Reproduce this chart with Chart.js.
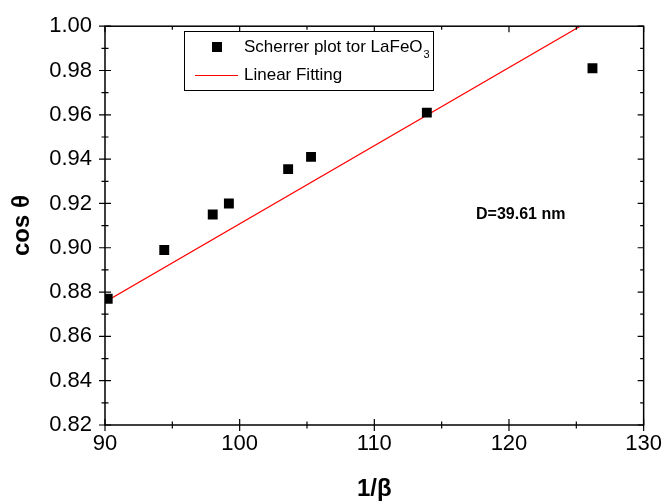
<!DOCTYPE html>
<html>
<head>
<meta charset="utf-8">
<script src="https://cdn.jsdelivr.net/npm/chart.js@4"></script>
<style>
html,body{margin:0;padding:0;background:#fff;}
#wrap{width:668px;height:504px;}
</style>
</head>
<body>
<div id="wrap"><canvas id="c" width="668" height="504"></canvas></div>
<script>
// Data
const invBeta = [90.2, 94.4, 98.0, 99.2, 103.6, 105.3, 113.9, 126.2];
const cosTheta = [0.877, 0.899, 0.915, 0.920, 0.9355, 0.941, 0.961, 0.981];
const fitX = [90, 130];
const fitY = [0.8755, 1.0166];
const xTicks = [90, 100, 110, 120, 130];
const xMinor = [95, 105, 115, 125];
const yTicks = [0.82, 0.84, 0.86, 0.88, 0.90, 0.92, 0.94, 0.96, 0.98, 1.00];
const yMinor = [0.83, 0.85, 0.87, 0.89, 0.91, 0.93, 0.95, 0.97, 0.99];
const seriesLabels = ['Scherrer plot tor LaFeO', 'Linear Fitting'];
const annotationText = 'D=39.61 nm';

const FONT = '"Liberation Sans", Arial, sans-serif';

const framePlugin = {
  id: 'frame',
  afterDatasetsDraw(chart) {
    const {ctx, chartArea: a, scales} = chart;
    const xs = scales.x, ys = scales.y;
    ctx.save();
    ctx.strokeStyle = '#000';
    ctx.lineWidth = 1.5;
    ctx.strokeRect(a.left, a.top, a.right - a.left, a.bottom - a.top);
    ctx.lineWidth = 1.2;
    ctx.beginPath();
    const maj = 6, min = 3.5;
    xTicks.forEach(v => {
      const p = xs.getPixelForValue(v);
      ctx.moveTo(p, a.bottom - maj); ctx.lineTo(p, a.bottom + maj);
      ctx.moveTo(p, a.top); ctx.lineTo(p, a.top + maj);
    });
    xMinor.forEach(v => {
      const p = xs.getPixelForValue(v);
      ctx.moveTo(p, a.bottom - min); ctx.lineTo(p, a.bottom + min);
      ctx.moveTo(p, a.top); ctx.lineTo(p, a.top + min);
    });
    yTicks.forEach(v => {
      const p = ys.getPixelForValue(v);
      ctx.moveTo(a.left - maj, p); ctx.lineTo(a.left + maj, p);
      ctx.moveTo(a.right, p); ctx.lineTo(a.right - maj, p);
    });
    yMinor.forEach(v => {
      const p = ys.getPixelForValue(v);
      ctx.moveTo(a.left - min, p); ctx.lineTo(a.left + min, p);
      ctx.moveTo(a.right, p); ctx.lineTo(a.right - min, p);
    });
    ctx.stroke();

    // Legend box
    const lx = 184, ly = 31, lw = 249, lh = 59;
    ctx.fillStyle = '#fff';
    ctx.fillRect(lx, ly, lw, lh);
    ctx.lineWidth = 1;
    ctx.strokeStyle = '#000';
    ctx.strokeRect(lx + 0.5, ly + 0.5, lw, lh);
    ctx.fillStyle = '#000';
    ctx.fillRect(212, 42, 10, 10);
    ctx.font = '17px ' + FONT;
    ctx.textBaseline = 'middle';
    ctx.textAlign = 'left';
    ctx.fillText(seriesLabels[0], 244, 47);
    const w0 = ctx.measureText(seriesLabels[0]).width;
    ctx.font = '11px ' + FONT;
    ctx.fillText('3', 244 + w0 + 1, 55);
    ctx.font = '17px ' + FONT;
    ctx.fillText(seriesLabels[1], 244, 75);
    ctx.strokeStyle = '#ff0000';
    ctx.beginPath();
    ctx.moveTo(195, 75.5); ctx.lineTo(238, 75.5);
    ctx.stroke();

    // annotation
    ctx.fillStyle = '#000';
    ctx.font = 'bold 16px ' + FONT;
    ctx.fillText(annotationText, 476, 215);
    ctx.restore();
  }
};

new Chart(document.getElementById('c'), {
  type: 'scatter',
  data: {
    datasets: [
      {
        label: seriesLabels[0],
        data: invBeta.map((x, i) => ({x, y: cosTheta[i]})),
        pointStyle: 'rect',
        pointRadius: 7,
        pointBorderWidth: 0,
        backgroundColor: '#000',
        borderColor: '#000',
        showLine: false
      },
      {
        label: seriesLabels[1],
        data: fitX.map((x, i) => ({x, y: fitY[i]})),
        showLine: true,
        borderColor: '#ff0000',
        borderWidth: 1.2,
        pointRadius: 0,
        fill: false
      }
    ]
  },
  options: {
    responsive: false,
    animation: false,
    devicePixelRatio: 1,
    layout: {padding: {left: 0, top: 26, right: 21, bottom: 0}},
    plugins: {legend: {display: false}, tooltip: {enabled: false}},
    scales: {
      x: {
        type: 'linear',
        min: 90, max: 130,
        afterFit(s) { s.height = 79; },
        afterBuildTicks(s) { s.ticks = xTicks.map(v => ({value: v})); },
        grid: {display: false, drawTicks: false},
        border: {display: false},
        ticks: {
          color: '#000', padding: 6, maxRotation: 0,
          font: {family: FONT, size: 22},
          callback: v => String(v)
        },
        title: {
          display: true, text: '1/β', color: '#000',
          font: {family: FONT, size: 24, weight: 'bold'},
          padding: {top: 0, bottom: 0}
        }
      },
      y: {
        type: 'linear',
        min: 0.82, max: 1.0,
        afterFit(s) { s.width = 105; },
        afterBuildTicks(s) { s.ticks = yTicks.map(v => ({value: v})); },
        grid: {display: false, drawTicks: false},
        border: {display: false},
        ticks: {
          color: '#000', padding: 13,
          font: {family: FONT, size: 22},
          callback: v => Number(v).toFixed(2)
        },
        title: {
          display: true, text: 'cos θ', color: '#000',
          font: {family: FONT, size: 24, weight: 'bold'},
          padding: {top: 8, bottom: 0}
        }
      }
    }
  },
  plugins: [framePlugin]
});
</script>
</body>
</html>
